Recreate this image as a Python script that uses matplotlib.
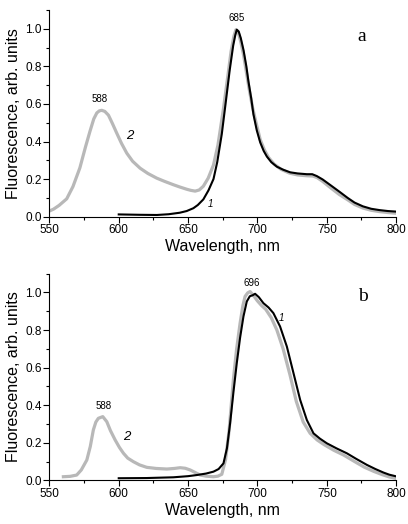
import matplotlib
matplotlib.use("Agg")
import matplotlib.pyplot as plt
from matplotlib.ticker import MultipleLocator, FormatStrFormatter

plt.rcParams['font.family'] = ['Liberation Sans', 'DejaVu Sans']

# panel a, curve 1 (black)
a1_x = [600, 615, 627.5, 636, 644, 649, 653.8, 657, 661, 664.7, 668.3, 671, 674.3, 677, 680,
        682.5, 684, 685.1, 686.5, 688, 690, 692, 693.5, 695.5, 697.1, 699.5, 702, 704.5,
        706.8, 710, 714, 718.5, 723.6, 729, 735.6, 739.5, 742.8, 747, 752.4, 759.6, 765,
        770, 776, 782, 788, 794, 800]
a1_y = [0.012, 0.010, 0.009, 0.013, 0.021, 0.030, 0.045, 0.062, 0.092, 0.140, 0.200, 0.290,
        0.440, 0.600, 0.780, 0.910, 0.965, 0.995, 0.985, 0.950, 0.885, 0.800, 0.720, 0.630,
        0.545, 0.460, 0.395, 0.350, 0.320, 0.290, 0.266, 0.250, 0.236, 0.230, 0.226, 0.226,
        0.216, 0.198, 0.169, 0.130, 0.100, 0.075, 0.055, 0.042, 0.035, 0.030, 0.027]
# panel a, curve 2 (grey)
a2_x = [550, 553, 557, 562.5, 567, 572, 576, 579.3, 582, 584.2, 586, 587.8, 590, 592.6, 595.5,
        598.6, 602, 605.8, 610, 615.4, 621, 627.4, 633, 639.4, 644, 649, 652, 655.1, 658,
        661, 664.5, 668.3, 671.5, 675.5, 678.5, 681, 683, 684.5, 686, 688, 690, 692, 694,
        696.5, 699, 702, 705, 708, 712, 717, 723, 729, 735, 740, 743, 747, 752, 759, 765,
        770, 776, 782, 788, 794, 800]
a2_y = [0.030, 0.040, 0.060, 0.095, 0.160, 0.260, 0.370, 0.455, 0.520, 0.552, 0.563, 0.566,
        0.560, 0.540, 0.495, 0.444, 0.390, 0.338, 0.295, 0.258, 0.230, 0.205, 0.188, 0.170,
        0.158, 0.146, 0.140, 0.136, 0.142, 0.162, 0.205, 0.275, 0.380, 0.575, 0.740, 0.880,
        0.960, 0.995, 0.985, 0.930, 0.860, 0.770, 0.680, 0.580, 0.500, 0.410, 0.355, 0.315,
        0.280, 0.252, 0.232, 0.222, 0.218, 0.216, 0.208, 0.188, 0.158, 0.118, 0.090, 0.065,
        0.046, 0.034, 0.027, 0.022, 0.018]

# panel b, curve 1 (black)
b1_x = [600, 620, 639.4, 650, 656.3, 663, 668.3, 672, 675.5, 678, 680.3, 682.7, 685.1, 687.5,
        689.9, 692.3, 694.5, 696.5, 698.3, 701, 704.3, 708, 711.5, 716.3, 721.2, 726, 730.8,
        735.6, 740.4, 745, 750, 757, 764.4, 771, 778.9, 785, 790.9, 795, 800]
b1_y = [0.011, 0.012, 0.016, 0.022, 0.028, 0.036, 0.046, 0.060, 0.090, 0.170, 0.304, 0.470,
        0.624, 0.760, 0.872, 0.952, 0.980, 0.985, 0.993, 0.975, 0.943, 0.920, 0.890, 0.819,
        0.712, 0.570, 0.428, 0.321, 0.250, 0.222, 0.197, 0.170, 0.144, 0.115, 0.082, 0.060,
        0.041, 0.030, 0.021]
# panel b, curve 2 (grey)
b2_x = [560.1, 565, 569.7, 573, 577, 579.5, 581.7, 583.5, 585.3, 588.5, 591.4, 594, 597.4,
        600.5, 603.4, 606.5, 610.6, 615, 620.2, 627, 634.7, 640, 644.3, 648, 651.5, 655, 658.7,
        663, 668.3, 671.5, 674.3, 677, 679.5, 682.7, 685, 687.5, 689.5, 691.1, 693, 694.7,
        697, 700, 703, 706, 710, 714, 718.5, 723.5, 728, 733, 738, 743, 748, 755, 762, 770,
        777, 784, 790, 795, 800]
b2_y = [0.019, 0.021, 0.028, 0.055, 0.108, 0.180, 0.268, 0.310, 0.330, 0.339, 0.312, 0.265,
        0.215, 0.175, 0.144, 0.118, 0.099, 0.082, 0.069, 0.063, 0.060, 0.063, 0.067, 0.064,
        0.055, 0.042, 0.028, 0.022, 0.019, 0.022, 0.032, 0.110, 0.260, 0.540, 0.700, 0.837,
        0.930, 0.979, 0.998, 1.005, 0.985, 0.955, 0.930, 0.910, 0.865, 0.800, 0.700, 0.560,
        0.420, 0.310, 0.250, 0.215, 0.190, 0.160, 0.135, 0.100, 0.070, 0.047, 0.030, 0.018,
        0.010]

grey = '#b8b8b8'

fig = plt.figure(figsize=(4.08, 5.24), dpi=100)
ax_a = fig.add_axes([0.121, 0.5865, 0.850, 0.3945])
ax_b = fig.add_axes([0.121, 0.0834, 0.850, 0.3943])

for ax in (ax_a, ax_b):
    ax.set_xlim(550, 800)
    ax.set_ylim(0, 1.1)
    ax.spines['top'].set_visible(False)
    ax.spines['right'].set_visible(False)
    ax.xaxis.set_major_locator(MultipleLocator(50))
    ax.xaxis.set_minor_locator(MultipleLocator(25))
    ax.yaxis.set_major_locator(MultipleLocator(0.2))
    ax.yaxis.set_minor_locator(MultipleLocator(0.1))
    ax.yaxis.set_major_formatter(FormatStrFormatter('%.1f'))
    ax.tick_params(which='major', direction='out', length=4, width=0.8, labelsize=8.5, pad=1.5)
    ax.tick_params(which='minor', direction='out', length=2.5, width=0.8)
    ax.set_xlabel('Wavelength, nm', fontsize=11.5, labelpad=2)
    ax.set_ylabel('Fluorescence, arb. units', fontsize=11.5, labelpad=3)

ax_a.plot(a2_x, a2_y, color=grey, lw=2.3, zorder=2, solid_joinstyle='round')
ax_a.plot(a1_x, a1_y, color='black', lw=1.5, zorder=3, solid_joinstyle='round')
ax_a.text(685, 1.03, '685', fontsize=7, ha='center', va='bottom')
ax_a.text(586.5, 0.60, '588', fontsize=7, ha='center', va='bottom')
ax_a.text(608, 0.43, '2', fontsize=9.5, style='italic', ha='center', va='center')
ax_a.text(666, 0.07, '1', fontsize=7, style='italic', ha='center', va='center')
ax_a.text(775, 0.96, 'a', fontsize=14, family='Liberation Serif', ha='center', va='center')

ax_b.plot(b2_x, b2_y, color=grey, lw=2.3, zorder=2, solid_joinstyle='round')
ax_b.plot(b1_x, b1_y, color='black', lw=1.5, zorder=3, solid_joinstyle='round')
ax_b.text(696, 1.025, '696', fontsize=7, ha='center', va='bottom')
ax_b.text(589, 0.37, '588', fontsize=7, ha='center', va='bottom')
ax_b.text(606, 0.23, '2', fontsize=9.5, style='italic', ha='center', va='center')
ax_b.text(717, 0.865, '1', fontsize=7, style='italic', ha='center', va='center')
ax_b.text(776, 0.98, 'b', fontsize=14, family='Liberation Serif', ha='center', va='center')

fig.savefig('out.png', dpi=100)
